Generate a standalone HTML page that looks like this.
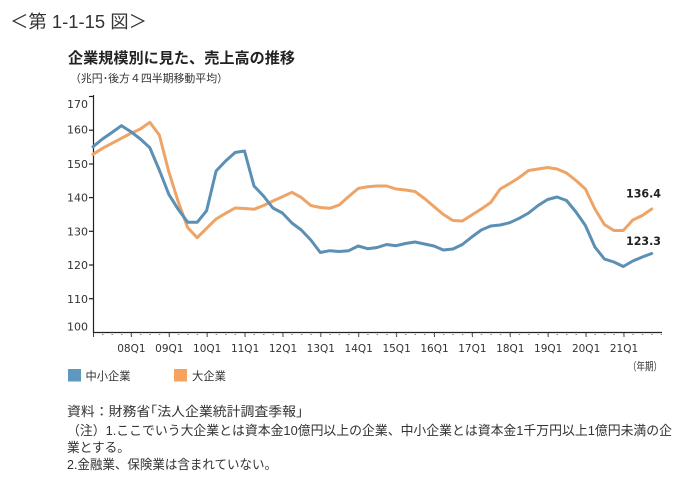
<!DOCTYPE html>
<html>
<head>
<meta charset="utf-8">
<style>
html,body{margin:0;padding:0;background:#fff;}
svg{display:block;}
.jp{font-family:"Liberation Sans","Noto Sans CJK JP",sans-serif;}
.num{font-family:"DejaVu Sans","Liberation Sans",sans-serif;}
</style>
</head>
<body>
<svg width="700" height="489" viewBox="0 0 700 489" xmlns="http://www.w3.org/2000/svg">
<rect width="700" height="489" fill="#fff"/>
<!-- heading -->
<text x="10" y="28" class="jp" font-size="18" fill="#333" textLength="137" lengthAdjust="spacingAndGlyphs">＜第 1-1-15 図＞</text>
<!-- title -->
<text x="68" y="63" class="jp" font-size="15" font-weight="bold" fill="#222" textLength="227" lengthAdjust="spacingAndGlyphs">企業規模別に見た、売上高の推移</text>
<text x="70" y="82" class="jp" font-size="11" fill="#333" textLength="158" lengthAdjust="spacingAndGlyphs">（兆円･後方４四半期移動平均）</text>

<!-- axes -->
<g stroke="#222" stroke-width="1.2" fill="none">
<line x1="93.5" y1="95" x2="93.5" y2="333"/>
<line x1="93" y1="332.5" x2="662" y2="332.5"/>
<line x1="89" y1="96.5" x2="93.5" y2="96.5"/>
<line x1="89" y1="130.2" x2="93.5" y2="130.2"/>
<line x1="89" y1="164" x2="93.5" y2="164"/>
<line x1="89" y1="197.6" x2="93.5" y2="197.6"/>
<line x1="89" y1="231.3" x2="93.5" y2="231.3"/>
<line x1="89" y1="265" x2="93.5" y2="265"/>
<line x1="89" y1="298.7" x2="93.5" y2="298.7"/>
</g>
<!-- x ticks -->
<g stroke="#444" stroke-width="1">
<line x1="93.5" y1="333" x2="93.5" y2="337"/>
<line x1="131.4" y1="333" x2="131.4" y2="337"/>
<line x1="169.3" y1="333" x2="169.3" y2="337"/>
<line x1="207.2" y1="333" x2="207.2" y2="337"/>
<line x1="245.1" y1="333" x2="245.1" y2="337"/>
<line x1="283" y1="333" x2="283" y2="337"/>
<line x1="320.8" y1="333" x2="320.8" y2="337"/>
<line x1="358.7" y1="333" x2="358.7" y2="337"/>
<line x1="396.6" y1="333" x2="396.6" y2="337"/>
<line x1="434.5" y1="333" x2="434.5" y2="337"/>
<line x1="472.4" y1="333" x2="472.4" y2="337"/>
<line x1="510.3" y1="333" x2="510.3" y2="337"/>
<line x1="548.2" y1="333" x2="548.2" y2="337"/>
<line x1="586.1" y1="333" x2="586.1" y2="337"/>
<line x1="624" y1="333" x2="624" y2="337"/>
</g>
<g stroke="#888" stroke-width="1" stroke-dasharray="1.5 7.97" >
<line x1="102" y1="334.5" x2="662" y2="334.5"/>
</g>

<!-- y labels -->
<g class="num" font-size="11" fill="#333" text-anchor="end">
<text x="88" y="108">170</text>
<text x="88" y="133.5">160</text>
<text x="88" y="168">150</text>
<text x="88" y="201.5">140</text>
<text x="88" y="235.5">130</text>
<text x="88" y="269">120</text>
<text x="88" y="303">110</text>
<text x="88" y="330.5">100</text>
</g>
<!-- x labels -->
<g class="num" font-size="10.5" fill="#333" text-anchor="middle">
<text x="131.4" y="352">08Q1</text>
<text x="169.3" y="352">09Q1</text>
<text x="207.2" y="352">10Q1</text>
<text x="245.1" y="352">11Q1</text>
<text x="283" y="352">12Q1</text>
<text x="320.8" y="352">13Q1</text>
<text x="358.7" y="352">14Q1</text>
<text x="396.6" y="352">15Q1</text>
<text x="434.5" y="352">16Q1</text>
<text x="472.4" y="352">17Q1</text>
<text x="510.3" y="352">18Q1</text>
<text x="548.2" y="352">19Q1</text>
<text x="586.1" y="352">20Q1</text>
<text x="624" y="352">21Q1</text>
</g>
<text x="628" y="370" class="jp" font-size="11" fill="#333" textLength="34" lengthAdjust="spacingAndGlyphs">（年期）</text>

<!-- series -->
<polyline fill="none" stroke="#eea467" stroke-width="3" stroke-linejoin="round" stroke-linecap="round" points="
93,154.3 102.5,148.3 111.9,143.3 121.4,138.3 130.9,133.3 140.4,129 149.8,122.3 159.3,135 168.8,171.7 178.2,201.7
187.7,227.7 197.2,237.7 206.6,228.3 216.1,219 225.6,213.3 235.1,208 244.5,208.5 254,209.3 263.5,205.5 272.9,201
282.4,196.7 291.9,192.3 301.3,197.5 310.8,205.5 320.3,207.5 329.8,208.3 339.2,205 348.7,196.5 358.2,188.5 367.6,186.7
377.1,186 386.6,186 396,189 405.5,190 415,191.5 424.5,198.5 433.9,206.5 443.4,214.5 452.9,220.5 462.3,221
471.8,215 481.3,209 490.7,202.5 500.2,189 509.7,183.5 519.2,177.5 528.6,170.5 538.1,169 547.6,167.5 557,169
566.5,173 576,180.5 585.4,189 594.9,209 604.4,224.5 613.9,230.5 623.3,230.5 632.8,220 642.3,215.5 651.7,209"/>
<polyline fill="none" stroke="#5b8fb3" stroke-width="3" stroke-linejoin="round" stroke-linecap="round" points="
93,146.7 102.5,139 111.9,132.5 121.4,125.7 130.9,131.7 140.4,139 149.8,147.7 159.3,170 168.8,194.3 178.2,209.3
187.7,222.3 197.2,222.3 206.6,210.7 216.1,171 225.6,161 235.1,152.5 244.5,151 254,186 263.5,196 272.9,208
282.4,213 291.9,223 301.3,230 310.8,240 320.3,252.5 329.8,250.7 339.2,251.5 348.7,250.7 358.2,246 367.6,248.7
377.1,247.5 386.6,244.5 396,245.7 405.5,243.5 415,242 424.5,244 433.9,246 443.4,250 452.9,249 462.3,244.5
471.8,237 481.3,230 490.7,226 500.2,225 509.7,222.7 519.2,218.3 528.6,213 538.1,205.5 547.6,199.5 557,197
566.5,200.5 576,212 585.4,225.5 594.9,247 604.4,259 613.9,262 623.3,266.5 632.8,261 642.3,257 651.7,253.5"/>

<!-- end labels -->
<text x="626" y="197.5" class="num" font-size="11.5" font-weight="bold" fill="#222" textLength="35" lengthAdjust="spacingAndGlyphs">136.4</text>
<text x="626" y="245" class="num" font-size="11.5" font-weight="bold" fill="#222" textLength="35" lengthAdjust="spacingAndGlyphs">123.3</text>

<!-- legend -->
<rect x="68" y="369" width="13" height="12.5" fill="#5f97bf"/>
<text x="85.5" y="380" class="jp" font-size="11.5" fill="#333" textLength="45" lengthAdjust="spacingAndGlyphs">中小企業</text>
<rect x="174" y="369" width="13" height="12.5" fill="#f5a35e"/>
<text x="192" y="380" class="jp" font-size="11.5" fill="#333" textLength="34" lengthAdjust="spacingAndGlyphs">大企業</text>

<!-- notes -->
<g class="jp" font-size="13" fill="#333">
<text x="67" y="416" textLength="236" lengthAdjust="spacingAndGlyphs">資料：財務省｢法人企業統計調査季報｣</text>
<text x="67" y="435" textLength="605" lengthAdjust="spacingAndGlyphs">（注）1.ここでいう大企業とは資本金10億円以上の企業、中小企業とは資本金1千万円以上1億円未満の企</text>
<text x="67" y="452" textLength="63" lengthAdjust="spacingAndGlyphs">業とする。</text>
<text x="67" y="469" textLength="210" lengthAdjust="spacingAndGlyphs">2.金融業、保険業は含まれていない。</text>
</g>
</svg>
</body>
</html>
